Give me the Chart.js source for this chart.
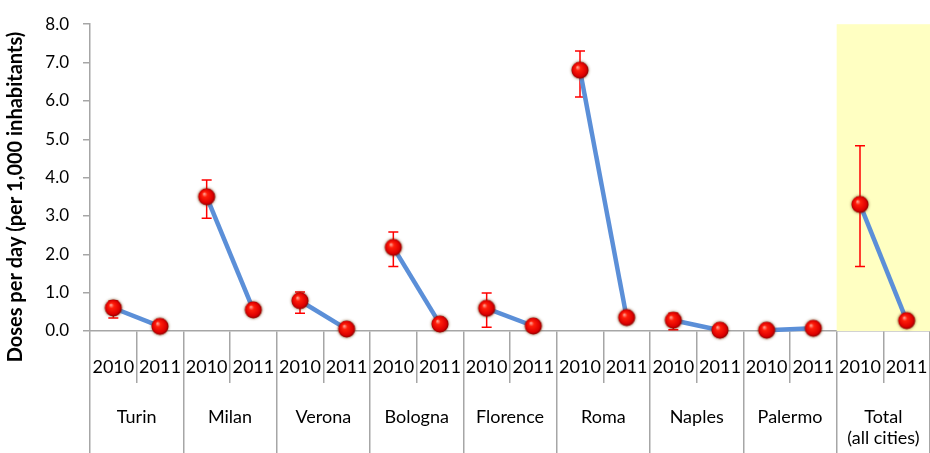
<!DOCTYPE html>
<html lang="en">
<head>
<meta charset="UTF-8">
<title>Doses per day by city, 2010-2011</title>
<script src="https://cdn.jsdelivr.net/npm/chart.js"></script>
<style>
  html, body { margin: 0; padding: 0; background: #fff; overflow: hidden; }
  #wrap { width: 930px; height: 453px; }
</style>
</head>
<body>
<div id="wrap"><canvas id="doseChart"></canvas></div>
<script>
// cities along the bottom, each with a 2010 / 2011 pair
const cities = ['Turin', 'Milan', 'Verona', 'Bologna', 'Florence', 'Roma', 'Naples', 'Palermo', ['Total', '(all cities)']];
const years = ['2010', '2011'];
const yearLabels = cities.flatMap(() => years);

// doses per day per 1,000 inhabitants, in the same order as yearLabels
const doses   = [0.60, 0.12, 3.50, 0.55, 0.79, 0.05, 2.18, 0.18, 0.59, 0.13, 6.80, 0.35, 0.28, 0.02, 0.02, 0.07, 3.30, 0.27];
const errLow  = [0.34, 0.05, 2.94, 0.40, 0.46, 0.03, 1.68, 0.12, 0.10, 0.09, 6.10, 0.30, 0.03, 0.01, 0.01, 0.05, 1.68, 0.22];
const errHigh = [0.78, 0.20, 3.94, 0.65, 1.02, 0.07, 2.58, 0.22, 0.99, 0.17, 7.30, 0.40, 0.46, 0.03, 0.03, 0.09, 4.83, 0.32];

const yTicks = ['0.0', '1.0', '2.0', '3.0', '4.0', '5.0', '6.0', '7.0', '8.0'];

const axisGrey = '#a6a6a6';
const font = 'Lato';

// shaded red ball used as the point marker
function makeBall() {
  const c = document.createElement('canvas');
  c.width = 24; c.height = 24;
  const g = c.getContext('2d');
  g.shadowColor = 'rgba(110, 60, 10, 0.85)';
  g.shadowBlur = 3;
  const grad = g.createRadialGradient(9.5, 9, 0.5, 12, 12, 9);
  grad.addColorStop(0, '#ff9a8a');
  grad.addColorStop(0.25, '#ff1e0a');
  grad.addColorStop(0.75, '#dd0000');
  grad.addColorStop(1, '#7a0000');
  g.fillStyle = grad;
  g.beginPath();
  g.arc(12, 12, 8.5, 0, Math.PI * 2);
  g.fill();
  return c;
}

// pale yellow band behind the last group, and the red error bars
const extras = {
  id: 'extras',
  beforeDatasetsDraw(chart) {
    const { ctx, scales: { x, y } } = chart;
    const last = yearLabels.length - 1;
    const half = (x.getPixelForValue(1) - x.getPixelForValue(0)) / 2;
    const left = x.getPixelForValue(last - 1) - half;
    const right = x.getPixelForValue(last) + half;
    const top = y.getPixelForValue(8);
    const bottom = y.getPixelForValue(0);
    ctx.save();
    ctx.fillStyle = '#ffffc2';
    ctx.fillRect(left, top, right - left, bottom - top);

    ctx.strokeStyle = '#ff0000';
    ctx.lineWidth = 1.5;
    doses.forEach((v, i) => {
      const px = x.getPixelForValue(i);
      const hi = y.getPixelForValue(errHigh[i]);
      const lo = y.getPixelForValue(errLow[i]);
      ctx.beginPath();
      ctx.moveTo(px, hi); ctx.lineTo(px, lo);
      ctx.moveTo(px - 5, hi); ctx.lineTo(px + 5, hi);
      ctx.moveTo(px - 5, lo); ctx.lineTo(px + 5, lo);
      ctx.stroke();
    });
    ctx.restore();
  }
};

const ball = makeBall();

new Chart(document.getElementById('doseChart'), {
  type: 'line',
  data: {
    labels: yearLabels,
    datasets: [{
      data: doses,
      borderColor: '#5b8fd8',
      borderWidth: 4.5,
      // only join the two years of the same city
      segment: {
        borderColor: ctx => ctx.p0DataIndex % 2 === 0 ? '#5b8fd8' : 'rgba(0,0,0,0)'
      },
      pointStyle: ball,
      pointRadius: 9,
      pointHoverRadius: 9,
      clip: false
    }]
  },
  plugins: [extras],
  options: {
    responsive: true,
    maintainAspectRatio: false,
    animation: false,
    layout: { autoPadding: false, padding: { top: 22, right: 0, bottom: 0, left: 0 } },
    plugins: {
      legend: { display: false },
      tooltip: { enabled: false }
    },
    scales: {
      x: {
        type: 'category',
        position: 'bottom',
        offset: true,
        grid: { offset: true, drawOnChartArea: false, tickLength: 52, color: axisGrey, lineWidth: 1.5 },
        border: { color: axisGrey, width: 1.5 },
        ticks: {
          font: { family: font, size: 18 },
          color: '#000',
          padding: -27,
          autoSkip: false,
          minRotation: 0,
          maxRotation: 0
        },
        afterFit: s => { s.height = 52; }
      },
      group: {
        type: 'category',
        position: 'bottom',
        labels: cities,
        offset: true,
        grid: { offset: true, drawOnChartArea: false, tickLength: 70, color: axisGrey, lineWidth: 1.5 },
        border: { display: false },
        ticks: {
          font: { family: font, size: 18 },
          color: '#000',
          padding: -47,
          autoSkip: false,
          minRotation: 0,
          maxRotation: 0
        },
        afterFit: s => { s.height = 70; }
      },
      y: {
        min: 0,
        max: 8,
        ticks: {
          stepSize: 1,
          font: { family: font, size: 17 },
          color: '#000',
          padding: 14,
          callback: (v, i) => yTicks[i]
        },
        grid: { drawOnChartArea: false, tickLength: 7, color: axisGrey, lineWidth: 1.5 },
        border: { color: axisGrey, width: 1.5 },
        title: {
          display: true,
          // trailing spaces nudge the centred title down along the axis
          text: 'Doses per day (per 1,000 inhabitants)        ',
          font: { family: font, size: 20, weight: 'bold' },
          color: '#000',
          padding: { top: 4, bottom: 0 }
        },
        afterFit: s => { s.width = 90; }
      }
    }
  }
});
</script>
</body>
</html>
